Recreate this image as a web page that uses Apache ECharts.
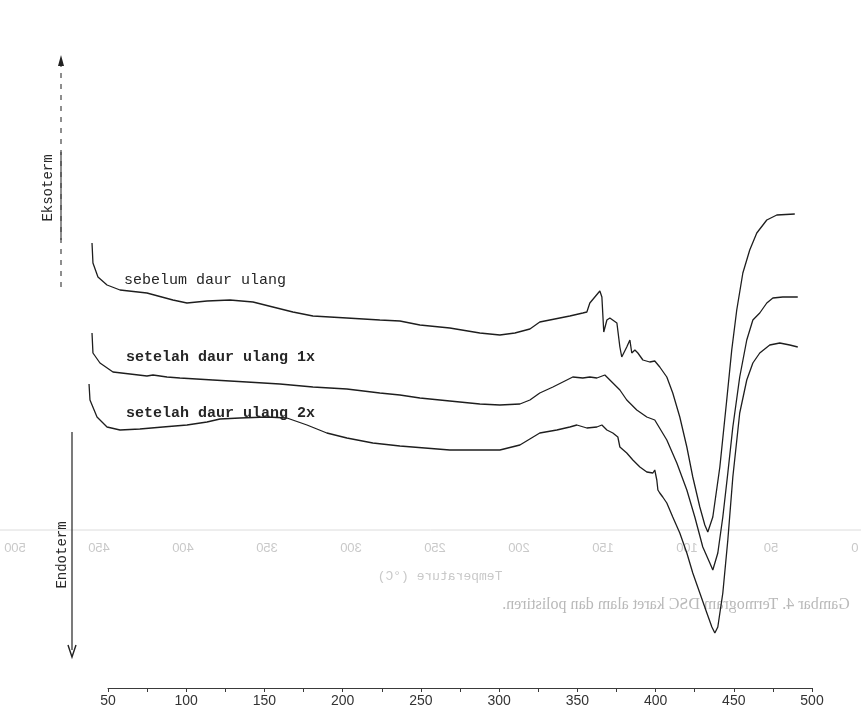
<!DOCTYPE html>
<html><head><meta charset="utf-8">
<script src="https://cdn.jsdelivr.net/npm/echarts@6/dist/echarts.min.js"></script>
<style>html,body{margin:0;padding:0;background:#fff}#c{width:861px;height:714px}</style>
</head><body><div id="c"></div>
<script>
// Temperature (°C) and relative heat flow (arbitrary units)
const tempBefore = [39.8,40.4,43.6,49.4,57.7,74.9,91.5,100.5,113.3,128.0,142.7,155.4,168.2,181.0,202.7,223.8,236.6,249.4,268.5,287.7,300.5,310.1,319.7,326.0,335.6,345.2,353.5,356.1,358.0,361.2,364.4,365.7,366.9,368.9,370.8,375.3,377.2,378.4,381.6,383.6,384.8,386.8,388.7,391.9,396.3,399.5,402.7,407.2,411.0,415.5,420.0,423.8,428.3,431.5,433.4,436.6,441.1,445.5,448.7,451.9,455.8,460.2,464.7,471.1,477.5,489.0];
const flowBefore = [445,425,411,403,398,395,388,385,387,388,386,381,376,372,370,368,367,363,360,355,353,355,359,366,369,372,375,376,385,391,397,391,356,368,370,365,341,331,341,348,335,338,335,328,326,327,321,311,295,271,241,211,181,163,156,171,221,288,338,378,415,438,455,468,473,474];

const tempAfter1 = [39.8,40.4,44.9,53.2,64.1,74.9,78.8,87.7,96.0,117.1,138.8,159.9,181.0,202.7,223.8,236.6,249.4,268.5,287.7,300.5,313.3,319.7,326.0,334.4,343.3,347.1,353.5,358.0,362.5,367.6,370.8,377.2,381.6,388.0,394.4,399.5,407.2,413.6,420.0,425.1,430.2,434.7,436.6,439.8,443.0,446.2,449.4,453.8,458.3,462.2,466.6,471.1,475.0,481.3,490.9];
const flowAfter1 = [355,335,325,316,314,312,313,311,310,308,306,304,301,299,295,293,290,287,284,283,284,288,295,301,308,311,310,311,310,313,308,298,288,278,271,268,248,225,198,171,141,125,118,135,171,215,261,311,348,368,375,385,390,391,391];

const tempAfter2 = [37.9,38.5,43.0,49.4,57.7,70.4,85.1,100.5,113.3,121.6,134.3,151.6,164.4,177.2,189.9,202.7,219.3,236.6,268.5,300.5,313.3,326.0,336.9,345.2,349.7,356.1,362.5,365.7,368.9,372.7,375.9,377.2,381.6,385.5,390.0,394.4,398.3,399.5,400.8,401.5,402.7,404.6,407.2,411.0,415.5,420.0,423.8,428.3,432.8,436.0,437.9,439.8,443.0,446.2,449.4,453.8,458.3,462.2,466.6,473.0,479.4,485.8,490.9];
const flowAfter2 = [304,288,271,261,258,259,261,263,266,269,270,271,270,263,255,250,245,242,238,238,243,255,258,261,263,260,261,263,258,255,251,241,235,228,221,216,215,218,208,198,195,191,185,171,155,135,115,95,75,61,55,61,95,148,211,275,308,325,335,343,345,343,341];

const seriesNames = ['sebelum daur ulang', 'setelah daur ulang 1x', 'setelah daur ulang 2x'];
const xTickLabels = [50,100,150,200,250,300,350,400,450,500];
const ghostTickLabels = ['500','450','400','350','300','250','200','150','100','50','0'];

function pairs(t, f){ return t.map((v,i)=>[v,f[i]]); }

const chart = echarts.init(document.getElementById('c'), null, {renderer:'canvas'});
const lineStyle = {color:'#1e1e1e', width:1.3};
const mono = '"Liberation Mono", "DejaVu Sans Mono", monospace';

const ghostColor = '#c9c9c9';
const ghostTexts = ghostTickLabels.map((s,i)=>({
  type:'text', x: 15 + i*84, y: 548, scaleX:-1,
  style:{text:s, fill:ghostColor, font:'13px "Liberation Sans"', textAlign:'center', textVerticalAlign:'middle'}, z:0
}));

chart.setOption({
  animation:false,
  backgroundColor:'#ffffff',
  grid:[
    {left:84.5, right:49, top:28, bottom:26},
    {left:108, right:49, top:28, bottom:26}
  ],
  xAxis:[
    {type:'value', gridIndex:0, min:35, max:500, show:false, splitLine:{show:false}},
    {
      type:'value', gridIndex:1, min:50, max:500, interval:25,
      axisLine:{lineStyle:{color:'#3a3a3a', width:1}},
      axisTick:{length:4, lineStyle:{color:'#3a3a3a'}},
      axisLabel:{
        formatter:(v)=> xTickLabels.includes(v) ? String(v) : '',
        color:'#333', fontSize:14, margin:6, fontFamily:'"Liberation Sans", sans-serif'
      },
      splitLine:{show:false}
    }
  ],
  yAxis:[
    {type:'value', gridIndex:0, min:0, max:660, show:false, splitLine:{show:false}},
    {type:'value', gridIndex:1, min:0, max:660, show:false, splitLine:{show:false}}
  ],
  series:[
    {name:seriesNames[0], type:'line', xAxisIndex:0, yAxisIndex:0, data:pairs(tempBefore, flowBefore), showSymbol:false, lineStyle, z:5},
    {name:seriesNames[1], type:'line', xAxisIndex:0, yAxisIndex:0, data:pairs(tempAfter1, flowAfter1), showSymbol:false, lineStyle, z:5},
    {name:seriesNames[2], type:'line', xAxisIndex:0, yAxisIndex:0, data:pairs(tempAfter2, flowAfter2), showSymbol:false, lineStyle, z:5}
  ],
  graphic:[
    ...ghostTexts,
    {type:'line', shape:{x1:0, y1:530, x2:861, y2:530}, style:{stroke:'#dcdcdc', lineWidth:1}, z:0},
    {type:'text', x:440, y:577, scaleX:-1, style:{text:'Temperature (°C)', fill:ghostColor, font:'13px "Liberation Mono"', textAlign:'center', textVerticalAlign:'middle'}, z:0},
    {type:'text', x:676, y:605, scaleX:-1, style:{text:'Gambar 4. Termogram DSC karet alam dan polistiren.', fill:'#b9b9b9', font:'16px "Liberation Serif"', textAlign:'center', textVerticalAlign:'middle'}, z:0},
    // curve labels
    {type:'text', x:124, y:280, style:{text:seriesNames[0], fill:'#262626', font:'15px ' + mono, textVerticalAlign:'middle'}, z:6},
    {type:'text', x:126, y:357, style:{text:seriesNames[1], fill:'#262626', font:'bold 15px ' + mono, textVerticalAlign:'middle'}, z:6},
    {type:'text', x:126, y:413, style:{text:seriesNames[2], fill:'#262626', font:'bold 15px ' + mono, textVerticalAlign:'middle'}, z:6},
    // Eksoterm arrow
    {type:'line', shape:{x1:61, y1:287, x2:61, y2:62}, style:{stroke:'#444', lineWidth:1.2, lineDash:[5,6]}, z:6},
    {type:'line', shape:{x1:61, y1:240, x2:61, y2:152}, style:{stroke:'#444', lineWidth:1.2}, z:6},
    {type:'polygon', shape:{points:[[58,66],[64,66],[61,55]]}, style:{fill:'#222'}, z:6},
    {type:'text', x:48, y:188, rotation:Math.PI/2, style:{text:'Eksoterm', fill:'#2a2a2a', font:'14px ' + mono, textAlign:'center', textVerticalAlign:'middle'}, z:6},
    // Endoterm arrow
    {type:'line', shape:{x1:72, y1:432, x2:72, y2:650}, style:{stroke:'#333', lineWidth:1.3}, z:6},
    {type:'polyline', shape:{points:[[68,645],[72,657],[76,645]]}, style:{stroke:'#222', lineWidth:1.4, fill:null}, z:6},
    {type:'text', x:62, y:555, rotation:Math.PI/2, style:{text:'Endoterm', fill:'#2a2a2a', font:'14px ' + mono, textAlign:'center', textVerticalAlign:'middle'}, z:6}
  ]
});
</script>
</body></html>
